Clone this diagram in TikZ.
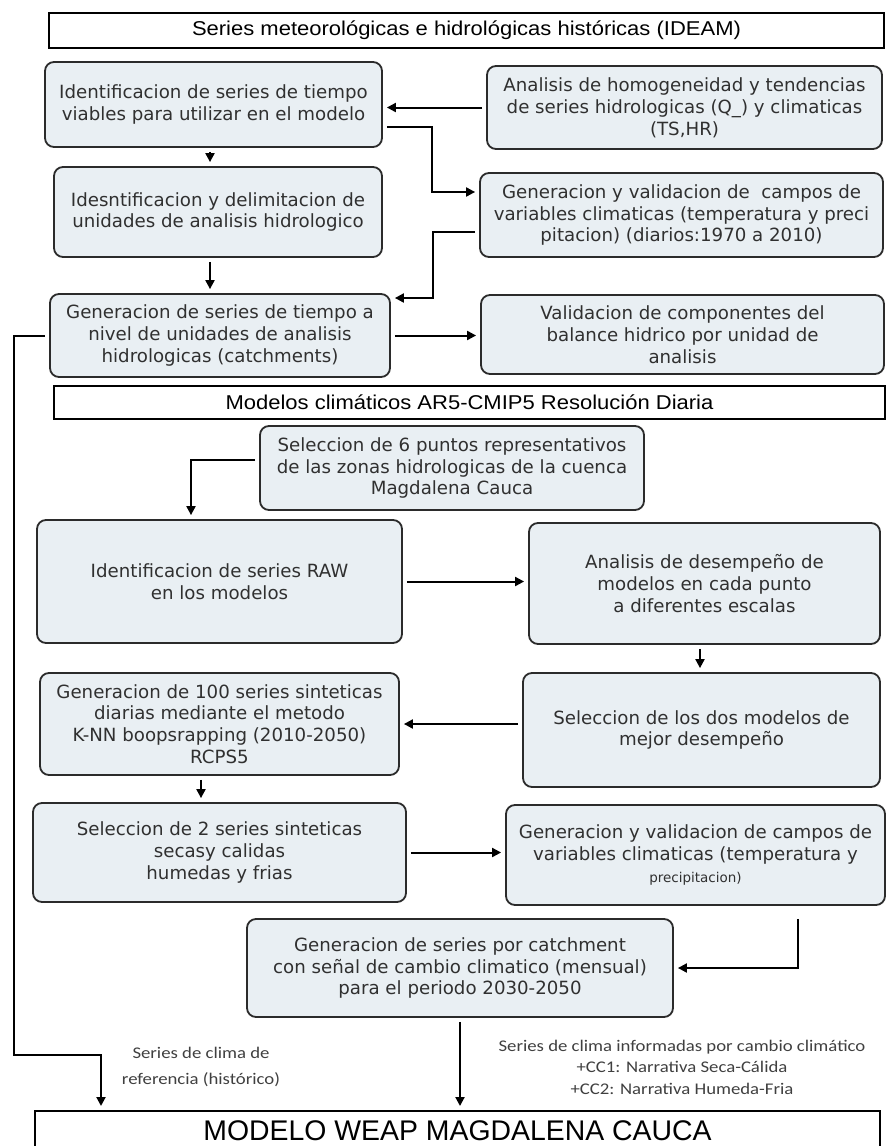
\documentclass[tikz,border=0pt]{standalone}
\usepackage{fontspec}
\setmainfont{DejaVu Sans}
\newfontfamily\titlefont[FakeStretch=1.1]{Liberation Sans}
\newfontfamily\weapfont{Liberation Sans}
\newfontfamily\lblfont[FakeStretch=1.15]{Carlito}
\usetikzlibrary{arrows.meta,calc}
\definecolor{boxfill}{HTML}{E9EFF3}
\definecolor{boxline}{HTML}{2B2B2B}
\definecolor{txt}{HTML}{303030}
\definecolor{lbltxt}{HTML}{404040}
\begin{document}
\begin{tikzpicture}[x=1pt,y=-1pt,
  box/.style={draw=boxline, line width=1.8pt, rounded corners=9pt, fill=boxfill, align=center, inner sep=2pt, text=txt, font=\fontsize{18.2}{21.8}\selectfont},
  ttl/.style={draw=black, line width=1.8pt, fill=white, align=center, inner sep=2pt, font=\titlefont\fontsize{20}{23}\selectfont},
  arr/.style={draw=black, line width=2pt, -{Triangle[length=9pt,width=9pt]}, shorten >=4pt, shorten <=4pt},
  lbl/.style={align=center, text=lbltxt, font=\lblfont\fontsize{16.3}{21.5}\selectfont}
]
\fill[white] (0,0) rectangle (887,1146);
\useasboundingbox (0,0) rectangle (887,1146);

\node[ttl, minimum width=835, minimum height=35] (t1) at (466.5,30.5) {Series meteorológicas e hidrológicas históricas (IDEAM)};

\node[box, minimum width=337, minimum height=85] (A) at (213.5,104.5) {Identificacion de series de tiempo\\viables para utilizar en el modelo};
\node[box, minimum width=395, minimum height=83] (B) at (684.5,107.5) {Analisis de homogeneidad y tendencias\\de series hidrologicas (Q\_) y climaticas\\(TS,HR)};
\node[box, minimum width=328, minimum height=90] (C) at (218,212) {Idesntificacion y delimitacion de\\unidades de analisis hidrologico};
\node[box, minimum width=403, minimum height=84] (D) at (681.5,215) {Generacion y validacion de\ \ campos de\\variables climaticas (temperatura y preci\\pitacion) (diarios:1970 a 2010)};
\node[box, minimum width=340, minimum height=83] (E) at (220,335.5) {Generacion de series de tiempo a\\nivel de unidades de analisis\\hidrologicas (catchments)};
\node[box, minimum width=403, minimum height=79] (F) at (682.5,334.5) {Validacion de componentes del\\balance hidrico por unidad de\\analisis};

\node[ttl, minimum width=831, minimum height=33] (t2) at (469.5,402.5) {Modelos climáticos AR5-CMIP5 Resolución Diaria};

\node[box, minimum width=384, minimum height=84] (G) at (452,468) {Seleccion de 6 puntos representativos\\de las zonas hidrologicas de la cuenca\\Magdalena Cauca};
\node[box, minimum width=365, minimum height=123] (H) at (219.5,581.5) {Identificacion de series RAW\\en los modelos};
\node[box, minimum width=351, minimum height=121] (I) at (704.5,583.5) {Analisis de desempeño de\\modelos en cada punto\\a diferentes escalas};
\node[box, minimum width=357, minimum height=114] (J) at (701.5,730) {Seleccion de los dos modelos de\\mejor desempeño};
\node[box, minimum width=359, minimum height=102] (K) at (219.5,724) {Generacion de 100 series sinteticas\\diarias mediante el metodo\\K-NN boopsrapping (2010-2050)\\RCPS5};
\node[box, minimum width=373, minimum height=99] (L) at (219.5,852.5) {Seleccion de 2 series sinteticas\\secasy calidas\\humedas y frias};
\node[box, minimum width=379, minimum height=100] (M) at (695.5,855) {Generacion y validacion de campos de\\variables climaticas (temperatura y\\{\fontsize{13.5}{17}\selectfont precipitacion)}};
\node[box, minimum width=426, minimum height=98] (N) at (460,968) {Generacion de series por catchment\\con señal de cambio climatico (mensual)\\para el periodo 2030-2050};

\node[ttl, anchor=north, minimum width=845, minimum height=40, font=\weapfont\fontsize{28.4}{32}\selectfont] (w) at (457.5,1110) {MODELO WEAP MAGDALENA CAUCA};

\node[lbl] (l1) at (201,1067) {Series de clima de\\[5pt]referencia (histórico)};
\node[lbl] (l2) at (682,1067) {Series de clima informadas por cambio climático\\+CC1: Narrativa Seca-Cálida\\+CC2: Narrativa Humeda-Fria};

\coordinate (c1) at (14,1055);

\draw[arr] (B.west) -- (B.west -| A.east);
\draw[arr] ([yshift=-22.5pt]A.east) -- ++(49,0) |- ([yshift=23pt]D.west);
\draw[arr] ([yshift=-17pt]D.west) -- ++(-46,0) |- ([yshift=37.5pt]E.east);
\draw[arr] ([xshift=-3.5pt]A.south) -- ([xshift=-3.5pt]A.south |- C.north);
\draw[arr] ([xshift=-8pt]C.south) -- ([xshift=-8pt]C.south |- E.north);
\draw[arr] (E.east) -- (E.east -| F.west);
\draw[arr] (E.west) -| (c1) -| ([xshift=-356.5pt]w.north);
\draw[arr] ([yshift=8pt]G.west) -| ([xshift=-28.5pt]H.north);
\draw[arr] (H.east) -- (H.east -| I.west);
\draw[arr] ([xshift=-4.5pt]I.south) -- ([xshift=-4.5pt]I.south |- J.north);
\draw[arr] (J.west |- K.east) -- (K.east);
\draw[arr] ([xshift=-18.5pt]K.south) -- ([xshift=-18.5pt]K.south |- L.north);
\draw[arr] (L.east) -- (L.east -| M.west);
\draw[arr, shorten <=13pt] ([xshift=102.5pt]M.south) |- (N.east);
\draw[arr] (N.south) -- (N.south |- w.north);
\end{tikzpicture}
\end{document}
